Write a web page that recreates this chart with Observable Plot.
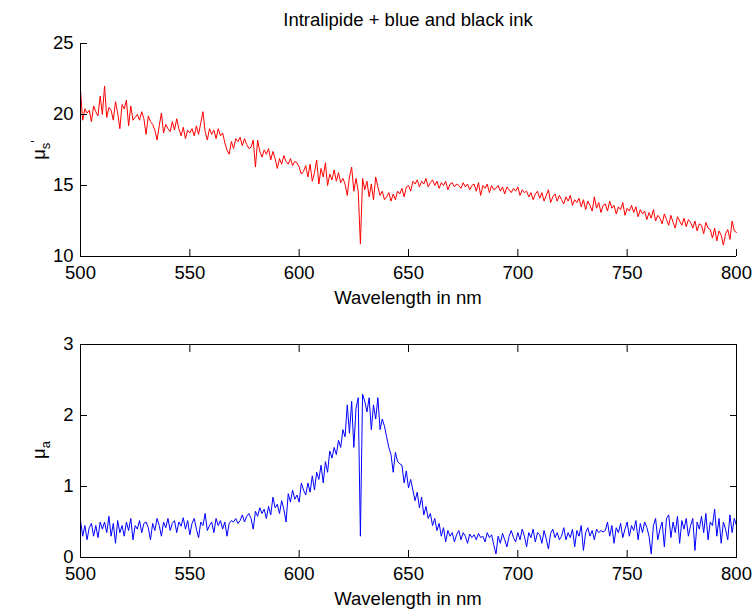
<!DOCTYPE html>
<html><head><meta charset="utf-8">
<script src="https://cdn.jsdelivr.net/npm/d3@7"></script>
<script src="https://cdn.jsdelivr.net/npm/@observablehq/plot@0.6"></script>
<style>
body{margin:0;background:#fff;}
#wrap{position:relative;width:756px;height:612px;font-family:"Liberation Sans",Arial,Helvetica,sans-serif;color:#000;}
#title{position:absolute;left:80px;width:656px;top:11px;text-align:center;font-size:18.5px;line-height:18.5px;}
.panel{position:absolute;left:0;}
</style>
</head><body>
<div id="wrap"><div id="title">Intralipide + blue and black ink</div></div>
<script>
const titleText = "Intralipide + blue and black ink";
const xLabel = "Wavelength in nm";
const wlStart = 500, wlStep = 1;
const xTicks = [500, 550, 600, 650, 700, 750, 800];
const yTicksS = [10, 15, 20, 25];
const yTicksA = [0, 1, 2, 3];

// reduced scattering coefficient mu_s' (500..800 nm, 1 nm step)
const muS = [
21.7,19.6,20.4,20.1,20.3,19.5,20.6,20.2,19.9,21.3,
20.0,22.0,19.8,20.5,20.3,19.6,20.9,20.1,19.0,20.7,
20.4,21.0,19.2,20.6,19.6,19.8,20.0,19.6,20.2,19.7,
18.6,19.9,19.5,19.3,18.9,18.2,19.2,20.1,18.7,19.3,
19.0,18.8,19.5,18.9,19.7,19.0,18.5,19.1,18.3,18.9,
18.7,19.0,18.5,19.2,18.6,19.4,20.2,18.8,18.2,19.0,
18.6,18.9,18.3,19.0,18.5,18.7,18.0,17.5,17.2,18.1,
17.6,18.3,18.1,18.4,17.8,18.3,17.9,17.6,17.7,18.2,
16.3,18.2,17.4,17.0,17.5,17.2,17.6,16.8,17.4,16.9,
16.2,16.9,16.5,17.1,16.7,16.5,16.9,16.4,16.7,16.6,
16.3,15.8,16.0,16.4,15.6,16.5,15.3,15.9,16.8,15.1,
16.2,15.6,16.6,15.0,15.8,15.4,16.1,15.3,15.9,15.2,
15.5,15.1,14.3,15.6,16.3,14.6,15.5,14.6,10.9,15.5,
14.7,15.3,14.2,15.1,14.0,15.6,14.9,14.3,14.6,14.0,
14.2,14.5,13.9,14.4,14.0,14.6,14.4,14.8,14.2,14.9,
15.0,14.6,15.3,15.1,15.4,14.9,15.3,15.1,15.5,14.9,
15.2,15.4,15.0,15.3,14.8,15.2,15.0,15.3,14.7,15.1,
15.2,14.9,15.1,15.0,14.8,15.2,14.9,15.1,14.7,15.0,
15.1,14.6,15.2,14.3,15.0,14.8,15.1,14.5,15.0,14.7,
14.8,15.0,14.6,14.9,14.4,14.9,14.7,14.5,14.8,14.6,
14.9,14.3,14.7,14.5,14.6,14.2,14.5,14.0,14.4,14.6,
14.1,14.5,13.9,14.3,14.7,13.8,14.2,14.4,13.9,14.3,
14.0,13.7,14.2,13.9,14.3,13.6,14.0,13.8,14.1,13.5,
14.0,13.3,13.9,13.6,13.2,14.2,13.4,13.8,13.1,13.6,
13.7,13.2,13.9,13.4,13.6,13.0,13.5,13.3,13.8,12.9,
13.4,13.2,13.6,13.1,13.5,12.8,13.3,13.0,13.2,12.6,
13.1,12.7,13.3,12.5,12.9,12.7,12.3,13.0,12.6,12.2,
12.9,12.4,12.0,12.8,12.5,12.2,12.7,12.1,12.6,12.4,
12.0,12.5,11.8,12.3,12.2,11.6,12.4,12.0,11.9,11.3,
12.0,11.1,11.8,11.5,10.8,11.6,11.9,11.2,12.5,11.8,
11.7
];

// absorption coefficient mu_a (500..800 nm, 1 nm step)
const muA = [
0.52,0.30,0.45,0.25,0.42,0.48,0.30,0.45,0.28,0.50,
0.40,0.50,0.35,0.58,0.30,0.48,0.20,0.52,0.35,0.45,
0.30,0.50,0.38,0.55,0.25,0.45,0.40,0.52,0.35,0.48,
0.50,0.42,0.25,0.48,0.38,0.55,0.45,0.30,0.50,0.42,
0.55,0.38,0.48,0.52,0.35,0.50,0.44,0.56,0.40,0.52,
0.32,0.48,0.55,0.40,0.28,0.50,0.45,0.62,0.38,0.45,
0.50,0.35,0.55,0.45,0.52,0.40,0.50,0.30,0.48,0.52,
0.50,0.55,0.48,0.52,0.60,0.50,0.58,0.62,0.55,0.40,
0.65,0.58,0.70,0.62,0.68,0.55,0.72,0.60,0.85,0.70,
0.75,0.62,0.80,0.68,0.50,0.90,0.78,0.95,0.82,0.88,
0.78,1.05,0.95,0.88,1.05,0.92,1.15,0.95,1.20,1.10,
1.30,1.05,1.35,1.20,1.50,1.40,1.55,1.45,1.65,1.55,
1.80,1.70,2.15,1.75,2.20,1.55,2.10,2.25,0.30,2.30,
2.20,2.05,2.25,1.80,2.15,1.95,2.25,1.80,1.95,1.85,
1.70,1.55,1.45,1.20,1.48,1.35,1.32,1.30,1.05,1.22,
0.98,1.10,0.95,0.80,0.92,0.70,0.85,0.60,0.72,0.55,
0.62,0.45,0.55,0.38,0.48,0.30,0.42,0.22,0.38,0.30,
0.35,0.22,0.32,0.38,0.25,0.35,0.30,0.20,0.33,0.28,
0.32,0.25,0.34,0.28,0.30,0.22,0.35,0.28,0.32,0.18,
0.05,0.30,0.20,0.34,0.25,0.15,0.30,0.38,0.28,0.22,
0.35,0.25,0.40,0.30,0.15,0.35,0.28,0.40,0.22,0.35,
0.32,0.20,0.38,0.26,0.12,0.34,0.40,0.28,0.35,0.25,
0.30,0.42,0.25,0.35,0.28,0.40,0.15,0.38,0.30,0.45,
0.10,0.35,0.42,0.30,0.38,0.25,0.40,0.35,0.38,0.36,
0.38,0.50,0.30,0.45,0.20,0.42,0.35,0.48,0.28,0.40,
0.50,0.30,0.45,0.38,0.52,0.25,0.48,0.35,0.50,0.42,
0.30,0.05,0.45,0.55,0.25,0.40,0.50,0.15,0.55,0.60,
0.28,0.50,0.35,0.58,0.20,0.52,0.40,0.55,0.30,0.45,
0.55,0.10,0.50,0.40,0.58,0.35,0.62,0.25,0.50,0.45,
0.68,0.30,0.55,0.20,0.50,0.40,0.25,0.60,0.35,0.55,
0.45
];

const rowsS = muS.map((v, i) => ({w: wlStart + i * wlStep, v}));
const rowsA = muA.map((v, i) => ({w: wlStart + i * wlStep, v}));

const FONT = '"Liberation Sans", Arial, Helvetica, sans-serif';
const style = {fontFamily: FONT, fontSize: "18.5px", color: "#000", background: "transparent", overflow: "visible"};
const fmt = d3.format("d");

const topChart = Plot.plot({
  width: 756, height: 300,
  marginLeft: 80, marginRight: 20, marginTop: 43, marginBottom: 44,
  style,
  x: {domain: [500, 800]},
  y: {domain: [10, 25]},
  marks: [
    Plot.line(rowsS, {x: "w", y: "v", stroke: "#ff0000", strokeWidth: 1}),
    Plot.ruleY([10], {stroke: "#000"}),
    Plot.ruleX([500], {stroke: "#000"}),
    Plot.axisX(xTicks, {tickSize: -7, tickPadding: 16, tickFormat: fmt, label: null, stroke: "#000"}),
    Plot.axisY(yTicksS, {tickSize: -7, tickPadding: 14, tickFormat: fmt, label: null, stroke: "#000"})
  ]
});

const botChart = Plot.plot({
  width: 756, height: 312,
  marginLeft: 80, marginRight: 20, marginTop: 44, marginBottom: 55,
  style,
  x: {domain: [500, 800]},
  y: {domain: [0, 3]},
  marks: [
    Plot.line(rowsA, {x: "w", y: "v", stroke: "#0000ff", strokeWidth: 1}),
    Plot.frame({stroke: "#000"}),
    Plot.axisX(xTicks, {tickSize: -7, tickPadding: 16, tickFormat: fmt, label: null, stroke: "#000"}),
    Plot.axisX(xTicks, {anchor: "top", tickSize: -7, fill: "none", label: null, stroke: "#000"}),
    Plot.axisY(yTicksA, {tickSize: -7, tickPadding: 14, tickFormat: fmt, label: null, stroke: "#000"}),
    Plot.axisY(yTicksA, {anchor: "right", tickSize: -7, fill: "none", label: null, stroke: "#000"})
  ]
});

function addLabels(svg, xLabelY, yLabelY, sub, prime) {
  const s = d3.select(svg);
  s.append("text").attr("x", 408).attr("y", xLabelY).attr("text-anchor", "middle")
    .attr("fill", "#000").style("font-size", "18.5px").text(xLabel);
  const t = s.append("text").attr("transform", `translate(45,${yLabelY}) rotate(-90)`)
    .attr("text-anchor", "middle").attr("fill", "#000").style("font-size", "18.5px");
  t.append("tspan").text("μ");
  t.append("tspan").attr("dy", "0.35em").style("font-size", "13px").text(sub);
  if (prime) t.append("tspan").attr("dy", "-0.75em").style("font-size", "13px").text("'");
}
addLabels(topChart, 304, 150, "s", true);
addLabels(botChart, 305, 150, "a", false);

topChart.classList.add("panel"); topChart.style.top = "0px";
botChart.classList.add("panel"); botChart.style.top = "300px";
const wrap = document.getElementById("wrap");
wrap.appendChild(topChart);
wrap.appendChild(botChart);
</script>
</body></html>
